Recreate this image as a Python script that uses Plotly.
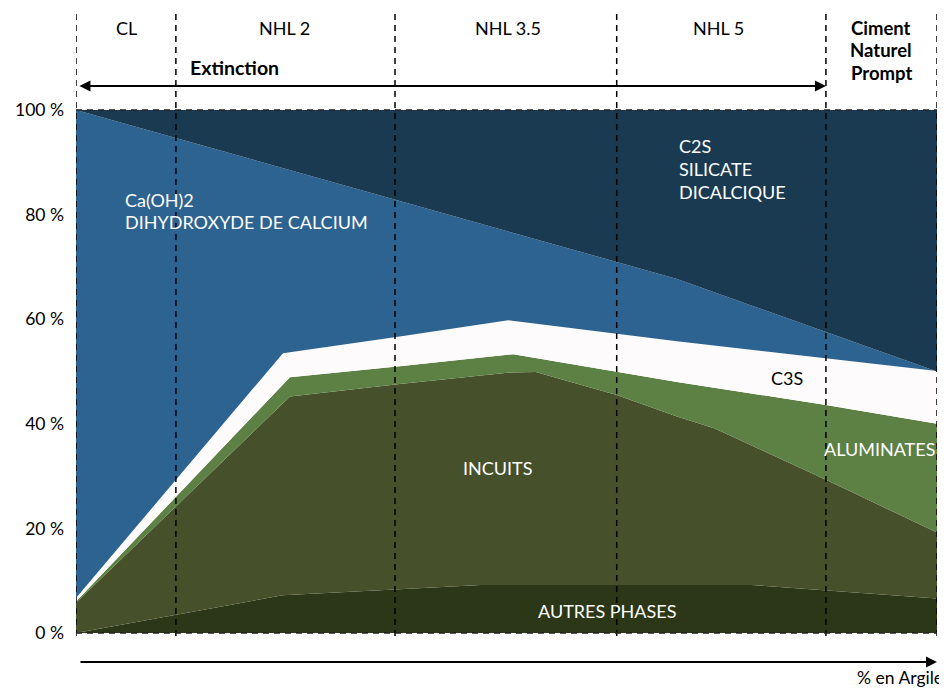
import plotly.graph_objects as go

# Boundaries (cumulative %); x = position along "% en Argile" axis (0..100)
autres_x = [0, 24.0, 37.0, 47.0, 78.4, 100]
autres_y = [0, 7.2, 8.3, 9.2, 9.2, 6.6]

incuits_x = [0, 24.85, 37.6, 50.4, 53.4, 62.8, 69.8, 74.2, 87.1, 100]
incuits_y = [5.8, 45.2, 47.6, 49.8, 49.9, 45.5, 41.4, 39.1, 29.3, 19.2]

alum_x = [0, 24.85, 37.6, 50.8, 69.8, 87.1, 100]
alum_y = [6.0, 48.9, 51.0, 53.3, 48.0, 43.6, 40.0]

c3s_x = [0, 24.04, 37.6, 50.2, 69.8, 87.1, 100]
c3s_y = [6.7, 53.5, 56.7, 59.8, 55.8, 52.5, 50.1]

caoh_x = [0, 69.8, 100]
caoh_y = [100, 67.7, 50.0]

c2s_x = [0, 100]
c2s_y = [100, 100]

zone_bounds = [0, 11.6, 37.05, 62.8, 87.1, 100]
zone_labels = ["CL", "NHL 2", "NHL 3.5", "NHL 5"]
zone_label_x = [5.9, 24.2, 50.2, 74.6]
ciment_lines = ["Ciment", "Naturel", "Prompt"]

ytick_vals = [0, 20, 40, 60, 80, 100]
ytick_text = ["0 %", "20 %", "40 %", "60 %", "80 %", "100 %"]

FONT = "Lato"
FS = 17.5

layers = [
    ("AUTRES PHASES", autres_x, autres_y, "#2b3716", "tozeroy"),
    ("INCUITS", incuits_x, incuits_y, "#46512b", "tonexty"),
    ("ALUMINATES", alum_x, alum_y, "#5d8045", "tonexty"),
    ("C3S", c3s_x, c3s_y, "#fefbfd", "tonexty"),
    ("Ca(OH)2", caoh_x, caoh_y, "#2c6390", "tonexty"),
    ("C2S", c2s_x, c2s_y, "#1a3a51", "tonexty"),
]

fig = go.Figure()
for name, xs, ys, col, fill in layers:
    fig.add_trace(go.Scatter(x=xs, y=ys, mode="lines", line=dict(width=0, color=col),
                             fill=fill, fillcolor=col, name=name, hoverinfo="skip",
                             showlegend=False))

# page layout: body has an 8px margin, so the figure is drawn 8px smaller and everything
# is placed in page pixels of the reference (plot area: x 76..937, y 8..640)
def paper_y(py):
    return (640 - py) / 632.0

shapes = []
dash = "6px,5px"
for xb in zone_bounds:
    shapes.append(dict(type="line", xref="x", yref="paper", x0=xb, x1=xb,
                       y0=paper_y(636), y1=paper_y(10),
                       line=dict(color="black", width=1.5, dash=dash)))
for yv in [0, 100]:
    shapes.append(dict(type="line", xref="x", yref="y", x0=0, x1=100, y0=yv, y1=yv,
                       line=dict(color="#222222", width=1.5, dash=dash)))

ann = []
for lab, xv in zip(zone_labels, zone_label_x):
    ann.append(dict(text=lab, x=xv, xref="x", y=paper_y(28), yref="paper", showarrow=False,
                    font=dict(size=18, color="black", family=FONT), xanchor="center", yanchor="middle"))
for i, lab in enumerate(ciment_lines):
    ann.append(dict(text="<b>%s</b>" % lab, x=93.5, xref="x", y=paper_y([28, 50, 73][i]), yref="paper",
                    showarrow=False, font=dict(size=18.5, color="black", family=FONT),
                    xanchor="center", yanchor="middle"))
ann.append(dict(text="<b>Extinction</b>", x=13.0, xref="x", y=paper_y(68), yref="paper",
                showarrow=False, font=dict(size=19.5, color="black", family=FONT),
                xanchor="left", yanchor="middle"))
# double arrow (Extinction)
ann.append(dict(text="", x=87.1, xref="x", y=paper_y(86), yref="paper",
                ax=-748, ay=0, axref="pixel", ayref="pixel", showarrow=True,
                arrowhead=2, startarrowhead=2, arrowside="end+start", arrowsize=1.1,
                arrowwidth=2, arrowcolor="black"))
# bottom arrow
ann.append(dict(text="", x=1.0, xref="paper", y=paper_y(662), yref="paper",
                ax=-858, ay=0, axref="pixel", ayref="pixel", showarrow=True,
                arrowhead=2, arrowsize=1.1, arrowwidth=2, arrowcolor="black"))
ann.append(dict(text="% en Argile", x=(945 - 76) / 861.0, xref="paper", y=paper_y(677), yref="paper",
                showarrow=False, font=dict(size=FS, color="black", family=FONT),
                xanchor="right", yanchor="middle"))

def data_y(py):
    return (633 - py) / 5.23

area_labels = [
    ("Ca(OH)2", 5.46, 200, "left", "white"),
    ("DIHYDROXYDE DE CALCIUM", 5.46, 222, "left", "white"),
    ("C2S", 69.8, 146, "left", "white"),
    ("SILICATE", 69.8, 169, "left", "white"),
    ("DICALCIQUE", 69.8, 192, "left", "white"),
    ("C3S", 82.6, 378, "center", "black"),
    ("ALUMINATES", 93.3, 449, "center", "white"),
    ("INCUITS", 48.9, 468, "center", "white"),
    ("AUTRES PHASES", 61.7, 611, "center", "white"),
]
for t, xv, py, anc, col in area_labels:
    ann.append(dict(text=t, x=xv, xref="x", y=data_y(py), yref="y", showarrow=False,
                    font=dict(size=18, color=col, family=FONT), xanchor=anc, yanchor="middle"))

fig.update_layout(
    width=939, height=682,
    margin=dict(l=68, r=10, t=0, b=50, autoexpand=False),
    paper_bgcolor="white", plot_bgcolor="white",
    xaxis=dict(range=[0, 100], visible=False, fixedrange=True),
    yaxis=dict(range=[(633 - 640) / 5.23, (633 - 8) / 5.23], tickvals=ytick_vals, ticktext=ytick_text,
               showgrid=False, zeroline=False, showline=False, ticks="",
               ticklabelstandoff=11, tickfont=dict(size=FS, color="black", family=FONT)),
    shapes=shapes, annotations=ann, showlegend=False,
)

fig.write_html("out.html")
